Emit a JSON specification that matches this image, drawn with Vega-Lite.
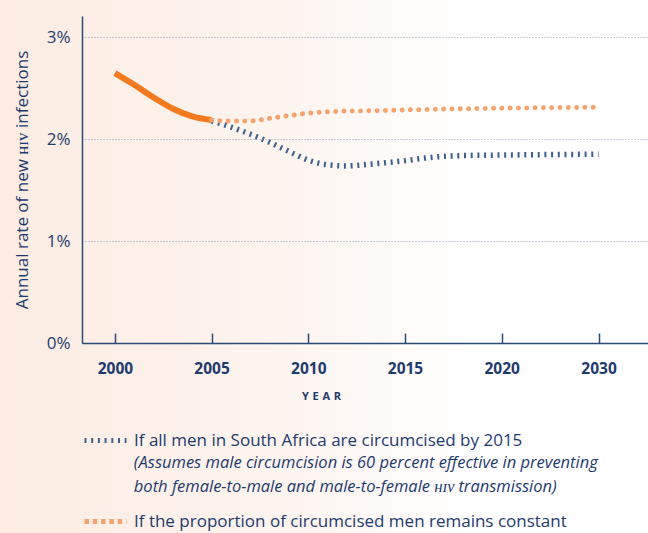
{
  "$schema": "https://vega.github.io/schema/vega-lite/v6.json",
  "width": 566,
  "height": 327,
  "autosize": {"type": "none"},
  "padding": {"left": 82, "top": 16, "right": 0, "bottom": 190},
  "background": "#ffffff",
  "config": {
    "view": {"stroke": null},
    "font": "Open Sans",
    "legend": {
      "orient": "none",
      "legendX": 0,
      "legendY": 401,
      "padding": 0,
      "symbolType": "stroke",
      "symbolSize": 1764,
      "symbolStrokeWidth": 5,
      "labelFont": "Open Sans",
      "labelFontSize": 17,
      "labelColor": "#1d3a6e",
      "labelOffset": 5,
      "labelLimit": 600,
      "rowPadding": 47,
      "direction": "vertical"
    }
  },
  "datasets": {
    "series": [
      {"year": 2000, "rate": 2.65, "scenario": "history"},
      {"year": 2001, "rate": 2.535, "scenario": "history"},
      {"year": 2002, "rate": 2.41, "scenario": "history"},
      {"year": 2003, "rate": 2.30, "scenario": "history"},
      {"year": 2004, "rate": 2.225, "scenario": "history"},
      {"year": 2005, "rate": 2.19, "scenario": "history"},
      {"year": 2005, "rate": 2.18, "scenario": "If all men in South Africa are circumcised by 2015"},
      {"year": 2006, "rate": 2.12, "scenario": "If all men in South Africa are circumcised by 2015"},
      {"year": 2007, "rate": 2.05, "scenario": "If all men in South Africa are circumcised by 2015"},
      {"year": 2008, "rate": 1.97, "scenario": "If all men in South Africa are circumcised by 2015"},
      {"year": 2009, "rate": 1.88, "scenario": "If all men in South Africa are circumcised by 2015"},
      {"year": 2010, "rate": 1.795, "scenario": "If all men in South Africa are circumcised by 2015"},
      {"year": 2011, "rate": 1.75, "scenario": "If all men in South Africa are circumcised by 2015"},
      {"year": 2012, "rate": 1.738, "scenario": "If all men in South Africa are circumcised by 2015"},
      {"year": 2013, "rate": 1.752, "scenario": "If all men in South Africa are circumcised by 2015"},
      {"year": 2014, "rate": 1.77, "scenario": "If all men in South Africa are circumcised by 2015"},
      {"year": 2015, "rate": 1.79, "scenario": "If all men in South Africa are circumcised by 2015"},
      {"year": 2016, "rate": 1.815, "scenario": "If all men in South Africa are circumcised by 2015"},
      {"year": 2017, "rate": 1.832, "scenario": "If all men in South Africa are circumcised by 2015"},
      {"year": 2018, "rate": 1.84, "scenario": "If all men in South Africa are circumcised by 2015"},
      {"year": 2019, "rate": 1.843, "scenario": "If all men in South Africa are circumcised by 2015"},
      {"year": 2020, "rate": 1.845, "scenario": "If all men in South Africa are circumcised by 2015"},
      {"year": 2025, "rate": 1.85, "scenario": "If all men in South Africa are circumcised by 2015"},
      {"year": 2030, "rate": 1.853, "scenario": "If all men in South Africa are circumcised by 2015"},
      {"year": 2005, "rate": 2.19, "scenario": "If  the proportion of circumcised men remains constant"},
      {"year": 2006, "rate": 2.178, "scenario": "If  the proportion of circumcised men remains constant"},
      {"year": 2007, "rate": 2.18, "scenario": "If  the proportion of circumcised men remains constant"},
      {"year": 2008, "rate": 2.205, "scenario": "If  the proportion of circumcised men remains constant"},
      {"year": 2009, "rate": 2.232, "scenario": "If  the proportion of circumcised men remains constant"},
      {"year": 2010, "rate": 2.256, "scenario": "If  the proportion of circumcised men remains constant"},
      {"year": 2011, "rate": 2.27, "scenario": "If  the proportion of circumcised men remains constant"},
      {"year": 2012, "rate": 2.277, "scenario": "If  the proportion of circumcised men remains constant"},
      {"year": 2013, "rate": 2.279, "scenario": "If  the proportion of circumcised men remains constant"},
      {"year": 2014, "rate": 2.283, "scenario": "If  the proportion of circumcised men remains constant"},
      {"year": 2015, "rate": 2.288, "scenario": "If  the proportion of circumcised men remains constant"},
      {"year": 2016, "rate": 2.292, "scenario": "If  the proportion of circumcised men remains constant"},
      {"year": 2017, "rate": 2.296, "scenario": "If  the proportion of circumcised men remains constant"},
      {"year": 2018, "rate": 2.299, "scenario": "If  the proportion of circumcised men remains constant"},
      {"year": 2019, "rate": 2.302, "scenario": "If  the proportion of circumcised men remains constant"},
      {"year": 2020, "rate": 2.305, "scenario": "If  the proportion of circumcised men remains constant"},
      {"year": 2025, "rate": 2.31, "scenario": "If  the proportion of circumcised men remains constant"},
      {"year": 2030, "rate": 2.315, "scenario": "If  the proportion of circumcised men remains constant"}
    ]
  },
  "layer": [
    {
      "data": {"values": [{"bg": "gradient"}]},
      "mark": {
        "type": "rect",
        "clip": false,
        "fill": {
          "gradient": "linear",
          "x1": 0, "x2": 1, "y1": 0, "y2": 0,
          "stops": [
            {"offset": 0, "color": "#fcece2"},
            {"offset": 0.45, "color": "#fdf5f0"},
            {"offset": 0.72, "color": "#ffffff"},
            {"offset": 1, "color": "#ffffff"}
          ]
        }
      },
      "encoding": {
        "x": {
          "datum": 1993.9, "type": "quantitative",
          "scale": {"domain": [1998.3, 2020, 2035.1], "range": [0, 419.7, 566], "nice": false, "zero": false},
          "axis": {
            "title": "Y\u2004E\u2004A\u2004R",
            "values": [2000, 2005, 2010, 2015, 2020, 2030],
            "format": "d",
            "labelFont": "Open Sans",
            "labelFontWeight": "bold",
            "labelFontSize": 15.5,
            "labelColor": "#1d3a6e",
            "labelPadding": 28,
            "labelOverlap": false,
            "labelFlush": false,
            "tickSize": -10,
            "tickColor": "#2b4a7a",
            "tickWidth": 1.5,
            "domainColor": "#2b4a7a",
            "domainWidth": 1.5,
            "grid": false,
            "titleFont": "Open Sans",
            "titleFontSize": 11,
            "titleFontWeight": "bold",
            "titleColor": "#1d3a6e",
            "titleX": 239,
            "titleY": 53,
            "titleAlign": "center",
            "titleBaseline": "middle",
            "zindex": 1
          }
        },
        "x2": {"datum": 2036},
        "y": {
          "datum": 3.45, "type": "quantitative",
          "scale": {"domain": [0, 3.21], "nice": false, "zero": true},
          "axis": {
            "title": "Annual rate of new ʜɪᴠ infections",
            "values": [0, 1, 2, 3],
            "labelExpr": "datum.value + '%'",
            "ticks": false,
            "labelPadding": 12,
            "labelFont": "Open Sans",
            "labelFontSize": 17,
            "labelColor": "#1d3a6e",
            "domainColor": "#2b4a7a",
            "domainWidth": 1.5,
            "grid": true,
            "gridColor": "#8f9bb0",
            "gridDash": [1, 2],
            "gridWidth": 1,
            "titleFont": "Open Sans",
            "titleFontSize": 17,
            "titleFontWeight": "normal",
            "titleColor": "#1d3a6e",
            "titleX": -60,
            "titleY": 163.5,
            "titleAngle": -90,
            "titleAlign": "center",
            "titleBaseline": "middle",
            "zindex": 1
          }
        },
        "y2": {"datum": -1.95}
      }
    },
    {
      "data": {"name": "series"},
      "transform": [{"filter": "datum.scenario == 'history'"}],
      "mark": {"type": "line", "interpolate": "monotone", "strokeWidth": 6, "strokeCap": "butt", "color": "#f47a20"},
      "encoding": {
        "x": {"field": "year", "type": "quantitative"},
        "y": {"field": "rate", "type": "quantitative"}
      }
    },
    {
      "data": {"name": "series"},
      "transform": [{"filter": "datum.scenario == 'If all men in South Africa are circumcised by 2015'"}],
      "mark": {"type": "line", "interpolate": "monotone", "strokeWidth": 5.5, "strokeCap": "butt"},
      "encoding": {
        "x": {"field": "year", "type": "quantitative"},
        "y": {"field": "rate", "type": "quantitative"},
        "color": {
          "field": "scenario", "type": "nominal", "title": null,
          "scale": {"domain": ["If all men in South Africa are circumcised by 2015", "If  the proportion of circumcised men remains constant"], "range": ["#3d5f8c", "#f6a46e"]}
        },
        "strokeDash": {
          "field": "scenario", "type": "nominal", "title": null,
          "scale": {"domain": ["If all men in South Africa are circumcised by 2015", "If  the proportion of circumcised men remains constant"], "range": [[2, 4.7], [4.5, 3.8]]}
        }
      }
    },
    {
      "data": {"name": "series"},
      "transform": [{"filter": "datum.scenario == 'If  the proportion of circumcised men remains constant'"}],
      "mark": {"type": "line", "interpolate": "monotone", "strokeWidth": 5, "strokeCap": "round", "strokeDash": [0.01, 8.3]},
      "encoding": {
        "x": {"field": "year", "type": "quantitative"},
        "y": {"field": "rate", "type": "quantitative"},
        "color": {"field": "scenario", "type": "nominal", "title": null}
      }
    },
    {
      "data": {"values": [{"note": "assumption"}]},
      "mark": {
        "type": "text",
        "clip": false,
        "align": "left",
        "baseline": "top",
        "font": "Open Sans",
        "fontStyle": "italic",
        "fontSize": 16.5,
        "lineHeight": 24,
        "color": "#1d3a6e",
        "text": ["(Assumes male circumcision is 60 percent effective in preventing", "\u2009both female-to-male and male-to-female ʜɪᴠ transmission)"]
      },
      "encoding": {
        "x": {"datum": 2000.98, "type": "quantitative"},
        "y": {"datum": -1.10, "type": "quantitative"}
      }
    }
  ]
}
